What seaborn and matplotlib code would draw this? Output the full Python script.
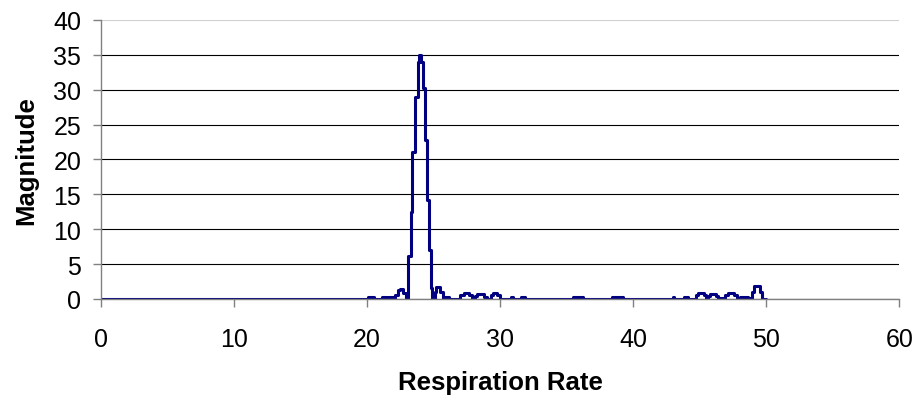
import matplotlib
matplotlib.use("Agg")
import matplotlib.pyplot as plt
import seaborn as sns
import pandas as pd

# respiration rate breakpoints (start of each step) and magnitude held until the next one
rate = [0, 20.1, 20.5, 21.1, 21.4, 21.6, 22.0, 22.1, 22.3, 22.5, 22.7, 22.9,
        23.1, 23.3, 23.4, 23.6, 23.8, 23.9, 24.1, 24.2, 24.4, 24.5, 24.7, 24.8, 24.9,
        25.1, 25.2, 25.5, 25.7, 25.9, 26.2,
        27.0, 27.3, 27.7, 27.9, 28.1, 28.3, 28.8, 29.0, 29.3, 29.5, 29.8, 30.0,
        30.8, 31.0, 31.6, 31.9, 35.5, 36.2, 38.4, 39.2,
        43.0, 43.1, 43.8, 44.1, 44.7, 44.9, 45.3, 45.5, 45.6, 45.8, 46.2, 46.4,
        46.9, 47.1, 47.6, 47.8, 48.0, 48.6, 48.9, 49.1, 49.5, 49.7, 50.0]
magnitude = [0, 0.3, 0, 0.3, 0.1, 0.3, 0.1, 0.6, 1.3, 1.4, 0.8, 0,
             6.1, 12.5, 21.1, 29.0, 34.0, 35.0, 34.0, 30.2, 22.8, 14.2, 7.0, 1.6, 0,
             1.0, 1.7, 1.0, 0, 0.3, 0,
             0.5, 0.9, 0.5, 0, 0.4, 0.7, 0.3, 0, 0.5, 0.9, 0.5, 0,
             0.3, 0, 0.3, 0, 0.3, 0, 0.3, 0,
             0.2, 0, 0.3, 0, 0.5, 0.9, 0.5, 0, 0.4, 0.7, 0.4, 0.1,
             0.5, 0.9, 0.5, 0.1, 0.3, 0.1, 1.0, 1.8, 1.0, 0, 0]

x_ticks = [0, 10, 20, 30, 40, 50, 60]
y_ticks = [0, 5, 10, 15, 20, 25, 30, 35, 40]

df = pd.DataFrame({"Respiration Rate": rate, "Magnitude": magnitude})

sns.set_style("white")
plt.rcParams["font.family"] = ["Liberation Sans", "DejaVu Sans"]
plt.rcParams["text.color"] = "black"
plt.rcParams["axes.labelcolor"] = "black"

fig, ax = plt.subplots(figsize=(9.15, 4.02), dpi=100)
fig.subplots_adjust(left=0.110, right=0.983, bottom=0.254, top=0.948)

sns.lineplot(data=df, x="Respiration Rate", y="Magnitude", ax=ax,
             color="#000080", linewidth=2.2, drawstyle="steps-post")

ax.set_xlim(0, 60)
ax.set_ylim(0, 40)
ax.set_xticks(x_ticks)
ax.set_yticks(y_ticks)

ax.grid(axis="y", color="black", linewidth=0.8)
ax.get_ygridlines()[-1].set_color("#d0d0d0")
ax.set_axisbelow(True)

for side in ["top", "right"]:
    ax.spines[side].set_visible(False)
for side in ["left", "bottom"]:
    ax.spines[side].set_color("#808080")
    ax.spines[side].set_linewidth(1.0)

ax.tick_params(axis="both", direction="out", length=6, width=1.0, color="#808080",
               labelsize=18, labelcolor="black", left=True, bottom=True)
ax.tick_params(axis="y", pad=8)
ax.tick_params(axis="x", pad=14)

ax.set_xlabel("Respiration Rate", fontsize=18.5, fontweight="bold", labelpad=14)
ax.set_ylabel("Magnitude", fontsize=18.5, fontweight="bold", labelpad=11)

fig.savefig("out.png", dpi=100)
